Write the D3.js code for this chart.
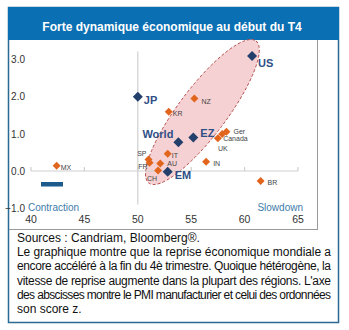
<!DOCTYPE html>
<html><head><meta charset="utf-8">
<script src="https://cdn.jsdelivr.net/npm/d3@7"></script>
<style>body{margin:0;background:#fff;} svg{display:block;font-family:"Liberation Sans",Arial,sans-serif;}</style>
</head><body><svg id="c" width="349" height="330"></svg>
<script>
// ---- data ----
const titleText = "Forte dynamique économique au début du T4";
const names   = ["US","JP","World","EZ","EM","KR","NZ","Ger","Canada","UK","IT","AU","SP","FR","CH","IN","MX","BR"];
const pmi     = [60.7, 50.0, 53.8, 55.2, 52.8, 52.9, 55.3, 58.3, 57.9, 57.5, 52.8, 52.1, 51.0, 51.1, 51.9, 56.4, 42.4, 61.5];
const zscore  = [3.08, 1.99, 0.77, 0.90, -0.02, 1.59, 1.94, 1.05, 0.99, 0.88, 0.46, 0.20, 0.31, 0.22, 0.01, 0.25, 0.14, -0.27];
const groups  = ["main","main","main","main","main","c","c","c","c","c","c","c","c","c","c","c","c","c"];
const xTicks  = [40, 45, 50, 55, 60, 65];
const yTicks  = [-1, 0, 1, 2, 3];
const noteLines = [
  "Sources : Candriam, Bloomberg®.",
  "Le graphique montre que la reprise économique mondiale a",
  "encore accéléré à la fin du 4è trimestre. Quoique hétérogène, la",
  "vitesse de reprise augmente dans la plupart des régions. L'axe",
  "des abscisses montre le PMI manufacturier et celui des ordonnées",
  "son score z."
];

// ---- layout / style ----
const labelPos = {
  US:[6,8,"start"], JP:[6,4,"start"], World:[-5,-7,"end"], EZ:[7,-3,"start"], EM:[7,4,"start"],
  KR:[4,1,"start"], NZ:[7,2,"start"], Ger:[7,-1,"start"], Canada:[1,4,"start"], UK:[0,10,"start"],
  IT:[4,1,"start"], AU:[7,-1,"start"], SP:[-2,-6,"end"], FR:[-2,3,"end"], CH:[-1,7,"end"],
  IN:[7,1,"start"], MX:[4,1,"start"], BR:[7,1,"start"]
};
const svg = d3.select("#c");
const x = d3.scaleLinear().domain([40,65]).range([31,298]);
const y = d3.scaleLinear().domain([-1,3]).range([208.3,59]);

// outer frame & header
svg.append("rect").attr("x",8.5).attr("y",7.5).attr("width",330).attr("height",315)
  .attr("fill","#fff").attr("stroke","#2B6A95").attr("stroke-width",1.5);
svg.append("rect").attr("x",8).attr("y",7).attr("width",331).attr("height",33).attr("fill","#0B6FB3");
svg.append("text").attr("x",172).attr("y",31).attr("text-anchor","middle")
  .attr("fill","#fff").attr("font-weight","bold").attr("font-size",12).text(titleText);

// chart box borders
svg.append("line").attr("x1",317.5).attr("x2",317.5).attr("y1",40).attr("y2",229.5).attr("stroke","#9a9a9a");
svg.append("line").attr("x1",9).attr("x2",318).attr("y1",229.5).attr("y2",229.5).attr("stroke","#9a9a9a");

// ellipse (in data coords)
const ec = [56.05, 1.58];
svg.append("ellipse")
  .attr("cx", x(ec[0])).attr("cy", y(ec[1]))
  .attr("rx", 89).attr("ry", 24)
  .attr("transform", `rotate(-53 ${x(ec[0])} ${y(ec[1])})`)
  .attr("fill","#F5C9CB").attr("fill-opacity",0.85)
  .attr("stroke","#B04A48").attr("stroke-width",0.9).attr("stroke-dasharray","3,2");

// axes lines
svg.append("line").attr("x1",x(50)).attr("x2",x(50)).attr("y1",y(3.2)).attr("y2",y(-0.9))
  .attr("stroke","#cfcfcf").attr("stroke-width",1.2);
svg.append("line").attr("x1",x(40)).attr("x2",x(65)).attr("y1",y(0)).attr("y2",y(0))
  .attr("stroke","#cfcfcf").attr("stroke-width",1.2);
svg.selectAll(".xt").data(xTicks).enter().append("line")
  .attr("x1",d=>x(d)).attr("x2",d=>x(d)).attr("y1",y(0)).attr("y2",y(0)-4)
  .attr("stroke","#cfcfcf").attr("stroke-width",1.2);
svg.selectAll(".xl").data(xTicks).enter().append("text")
  .attr("x",d=>x(d)).attr("y",222.5).attr("text-anchor","middle")
  .attr("font-size",10.5).attr("fill","#333").text(d=>d);
svg.selectAll(".yl").data(yTicks).enter().append("text")
  .attr("x",25).attr("y",d=>y(d)+4).attr("text-anchor","end")
  .attr("font-size",10).attr("fill","#333").text(d=>d3.format(".1f")(d));

// legend-ish bar and annotations
svg.append("rect").attr("x",41).attr("y",182).attr("width",22).attr("height",4.5).attr("fill","#1D5B8C");
svg.append("text").attr("x",28).attr("y",211).attr("font-size",10).attr("fill","#3E7CAA").text("Contraction");
svg.append("text").attr("x",303).attr("y",211).attr("text-anchor","end").attr("font-size",10).attr("fill","#3E7CAA").text("Slowdown");

// points
const pts = names.map((n,i)=>({n, px:pmi[i], z:zscore[i], g:groups[i]}));
const diamond = s => `M0,${-s}L${s},0L0,${s}L${-s},0Z`;
svg.selectAll(".pt").data(pts).enter().append("path")
  .attr("d",d=>diamond(d.g==="main"?5:4))
  .attr("transform",d=>`translate(${x(d.px)},${y(d.z)})`)
  .attr("fill",d=>d.g==="main"?"#233F6B":"#E2651E");
svg.selectAll(".lb").data(pts).enter().append("text")
  .attr("x",d=>x(d.px)+labelPos[d.n][0]).attr("y",d=>y(d.z)+labelPos[d.n][1]+3)
  .attr("text-anchor",d=>labelPos[d.n][2])
  .attr("font-size",d=>d.g==="main"?11:7)
  .attr("font-weight",d=>d.g==="main"?"bold":"normal")
  .attr("fill",d=>d.g==="main"?"#2E4E86":"#444")
  .text(d=>d.n);

// note text
noteLines.forEach((t,i)=>{
  const tx = svg.append("text").attr("x",17).attr("y",242+i*14.2).attr("font-size",12).attr("fill","#111").text(t);
  if(i>0 && i<noteLines.length-1) tx.attr("textLength",314).attr("lengthAdjust","spacing");
});
</script></body></html>
